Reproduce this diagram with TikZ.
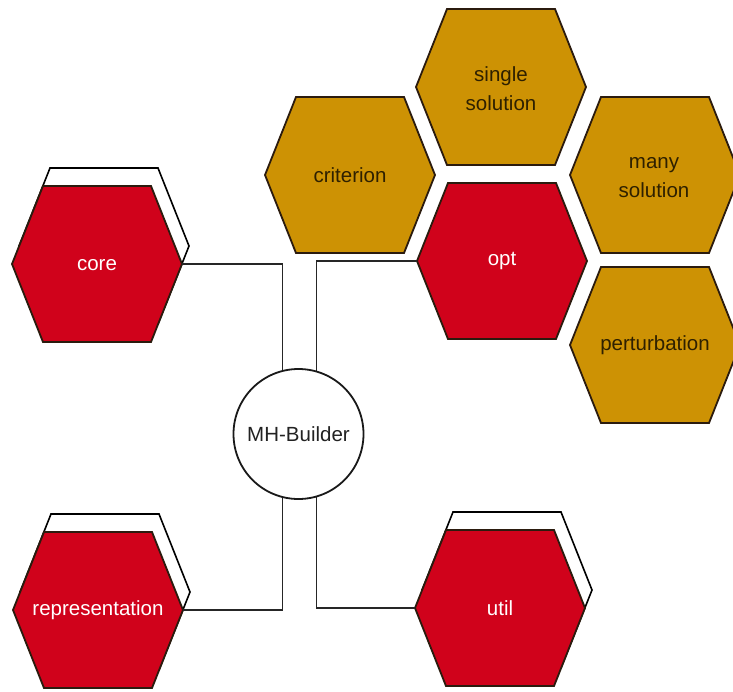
\documentclass[tikz,border=0pt]{standalone}
\usepackage{fontspec}
\setmainfont{Liberation Sans}
\usetikzlibrary{calc}
\definecolor{hexred}{HTML}{D0021B}
\definecolor{hexgold}{HTML}{CD9204}
\definecolor{edgec}{HTML}{2B1B0E}
\definecolor{goldtext}{HTML}{2E2000}
\definecolor{hubtext}{HTML}{222222}
\tikzset{
  pics/hexa/.style={code={\path[pic actions] (-85,0) -- (-54,-78) -- (54,-78) -- (85,0) -- (54,78) -- (-54,78) -- cycle;}},
  shadowhex/.style={draw=black, fill=white, line width=1.6pt},
  redhex/.style={draw=edgec, fill=hexred, line width=1.8pt},
  goldhex/.style={draw=edgec, fill=hexgold, line width=1.8pt},
  redlabel/.style={text=white, font=\fontsize{20.5}{29}\selectfont, align=center, inner sep=0pt},
  goldlabel/.style={text=goldtext, font=\fontsize{20.5}{29}\selectfont, align=center, inner sep=0pt},
  conn/.style={draw=black!85, line width=1.5pt},
  hubstyle/.style={circle, draw=black!90, fill=white, line width=1.8pt, minimum size=130pt, inner sep=0pt, text=hubtext, font=\fontsize{20.5}{24}\selectfont}
}
\begin{document}
\begin{tikzpicture}[x=1pt,y=-1pt]
\useasboundingbox (0,0) rectangle (733,691);
\clip (0,0) rectangle (733,691);
% centres
\coordinate (core-c) at (97,264);
\coordinate (rep-c) at (98,610);
\coordinate (util-c) at (500,608);
\coordinate (opt-c) at (502,261);
\coordinate (single-c) at (501,87);
\coordinate (crit-c) at (350,175);
\coordinate (many-c) at (655,175);
\coordinate (pert-c) at (655,345);
\coordinate (hubc) at (298.5,434);
% shadows
\pic[shadowhex] at ($(core-c)+(7,-18)$) {hexa};
\pic[shadowhex] at ($(rep-c)+(7,-18)$) {hexa};
\pic[shadowhex] at ($(util-c)+(7,-18)$) {hexa};
% hexagons
\pic[redhex] at (core-c) {hexa};
\pic[redhex] at (rep-c) {hexa};
\pic[redhex] at (util-c) {hexa};
\pic[redhex] at (opt-c) {hexa};
\pic[goldhex] at (single-c) {hexa};
\pic[goldhex] at (crit-c) {hexa};
\pic[goldhex] at (many-c) {hexa};
\pic[goldhex] at (pert-c) {hexa};
% labels
\node[redlabel] (core) at ($(core-c)+(0,1)$) {core};
\node[redlabel] (rep) at (rep-c) {representation};
\node[redlabel] (util) at (util-c) {util};
\node[redlabel] (opt) at (opt-c) {opt};
\node[goldlabel] (single) at ($(single-c)+(0,2)$) {single\\solution};
\node[goldlabel] (crit) at (crit-c) {criterion};
\node[goldlabel] (many) at ($(many-c)+(-1,3)$) {many\\solution};
\node[goldlabel] (pert) at (pert-c) {perturbation};
% connector ends
\coordinate (core-e) at ($(core-c)+(85,0)$);
\coordinate (rep-e) at ($(rep-c)+(85,0)$);
\coordinate (opt-w) at ($(opt-c)+(-85,0)$);
\coordinate (util-w) at ($(util-c)+(-85,0)$);
\coordinate (hub-l) at ($(hubc)+(-16,0)$);
\coordinate (hub-r) at ($(hubc)+(18,0)$);
\draw[conn] (core-e) -| (hub-l);
\draw[conn] (rep-e) -| (hub-l);
\draw[conn] (opt-w) -| (hub-r);
\draw[conn] (util-w) -| (hub-r);
\node[hubstyle] (hub) at (hubc) {MH-Builder};
\end{tikzpicture}
\end{document}
